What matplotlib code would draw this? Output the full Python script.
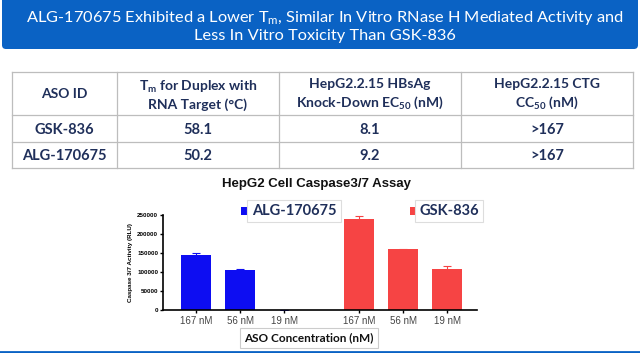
import numpy as np
import matplotlib
matplotlib.use("Agg")
import matplotlib.pyplot as plt
from matplotlib.patches import FancyBboxPatch, Rectangle

## data
concs = ["167 nM", "56 nM", "19 nM"]
alg_vals = [145000, 105000, 0]
alg_err = [4000, 2000, 0]
gsk_vals = [240000, 160000, 109000]
gsk_err = [8000, 1500, 8000]

table_head = ["ASO ID",
              "T$_\\mathbf{m}$ for Duplex with\nRNA Target (°C)",
              "HepG2.2.15 HBsAg\nKnock-Down EC$_\\mathbf{50}$ (nM)",
              "HepG2.2.15 CTG\nCC$_\\mathbf{50}$ (nM)"]
table_rows = [["GSK-836", "58.1", "8.1", ">167"],
              ["ALG-170675", "50.2", "9.2", ">167"]]

title = ("ALG-170675 Exhibited a Lower T$_\\mathrm{m}$, Similar In Vitro RNase H Mediated Activity and\n"
         "Less In Vitro Toxicity Than GSK-836")

plt.rcParams['mathtext.fontset'] = 'custom'
plt.rcParams['mathtext.rm'] = 'Lato'
plt.rcParams['mathtext.bf'] = 'Lato:bold'

blue_hdr = "#0a62c4"
navy = "#1f2f5a"
alg_col = "#0d0df2"
gsk_col = "#f64444"

W, H = 640, 353
fig = plt.figure(figsize=(6.4, 3.53), dpi=100)

## overlay in pixel coords
ov = fig.add_axes([0, 0, 1, 1])
ov.set_xlim(0, W)
ov.set_ylim(H, 0)
ov.axis('off')

ov.add_patch(FancyBboxPatch((2, -10), W - 4, 59, boxstyle="round,pad=0,rounding_size=4",
                            fc=blue_hdr, ec="none"))
ov.text(325, 26, title, color="white", fontsize=11.8, family="Lato",
        ha="center", va="center", linespacing=1.25)

# table
cols = [12, 117, 279, 461, 633]
rows = [72, 115, 142, 168]
for y in rows:
    ov.plot([cols[0], cols[-1]], [y, y], color="#bdbdbd", lw=0.9)
for x in cols:
    ov.plot([x, x], [rows[0], rows[-1]], color="#bdbdbd", lw=0.9)
for j, t in enumerate(table_head):
    ov.text((cols[j] + cols[j + 1]) / 2, (rows[0] + rows[1]) / 2 + 1, t, ha="center", va="center",
            fontsize=10, fontweight="bold", family="Lato", color=navy, linespacing=1.35)
for i, r in enumerate(table_rows):
    for j, t in enumerate(r):
        ov.text((cols[j] + cols[j + 1]) / 2, (rows[i + 1] + rows[i + 2]) / 2 + 1, t, ha="center",
                va="center", fontsize=10.5, fontweight="bold", family="Lato", color=navy)

# chart title
ov.text(316, 184, "HepG2 Cell Caspase3/7 Assay", ha="center", va="center", fontsize=9.5,
        fontweight="bold", family="Liberation Sans", color="#111111")

# legend boxes
ov.add_patch(Rectangle((241, 207), 10, 8, fc=alg_col, ec="none"))
ov.text(294, 211, "ALG-170675", ha="center", va="center", fontsize=10.5, fontweight="bold",
        family="Lato", color=navy,
        bbox=dict(boxstyle="square,pad=0.3", fc="white", ec="#dddddd", lw=0.8))
ov.add_patch(Rectangle((410, 207), 8, 8, fc=gsk_col, ec="none"))
ov.text(449, 211, "GSK-836", ha="center", va="center", fontsize=10.5, fontweight="bold",
        family="Lato", color=navy,
        bbox=dict(boxstyle="square,pad=0.3", fc="white", ec="#dddddd", lw=0.8))

ov.text(309, 338, "ASO Concentration (nM)", ha="center", va="center", fontsize=8.5,
        fontweight="bold", family="Lato", color="#111111",
        bbox=dict(boxstyle="square,pad=0.35", fc="white", ec="#cccccc", lw=0.8))

ov.plot([0, W], [352, 352], color=blue_hdr, lw=2)

## bar chart
ax = fig.add_axes([163 / W, 1 - 310 / H, (477 - 163) / W, (310 - 215) / H])
ax.patch.set_alpha(0)
x_alg = np.arange(3)
x_gsk = np.arange(3) + 3.7
ax.bar(x_alg, alg_vals, width=0.68, color=alg_col, yerr=alg_err,
       error_kw=dict(ecolor=alg_col, capsize=3, elinewidth=0.8, capthick=0.8))
ax.bar(x_gsk, gsk_vals, width=0.68, color=gsk_col, yerr=gsk_err,
       error_kw=dict(ecolor=gsk_col, capsize=3, elinewidth=0.8, capthick=0.8))
ax.set_xlim(-0.75, 6.38)
ax.set_ylim(0, 250000)
ax.set_yticks(np.arange(0, 250001, 50000))
ax.set_xticks(np.concatenate([x_alg, x_gsk]))
ax.set_xticklabels(concs + concs, fontsize=7, family="Liberation Sans", color="#444444")
for lab in ax.get_yticklabels():
    lab.set_fontsize(4.5)
    lab.set_fontweight("bold")
    lab.set_family("Liberation Sans")
ax.set_ylabel("Caspase 3/7 Activity (RLU)", fontsize=4.5, fontweight="bold",
              family="Liberation Sans", labelpad=3)
ax.spines['top'].set_visible(False)
ax.spines['right'].set_visible(False)
ax.spines['left'].set_linewidth(1.2)
ax.spines['bottom'].set_linewidth(1.2)
ax.tick_params(axis='y', length=2.5, width=1, pad=1)
ax.tick_params(axis='x', length=2.5, width=1, pad=2)
for b in ax.patches:
    b.set_clip_on(False)

fig.savefig("out.png", dpi=100)
